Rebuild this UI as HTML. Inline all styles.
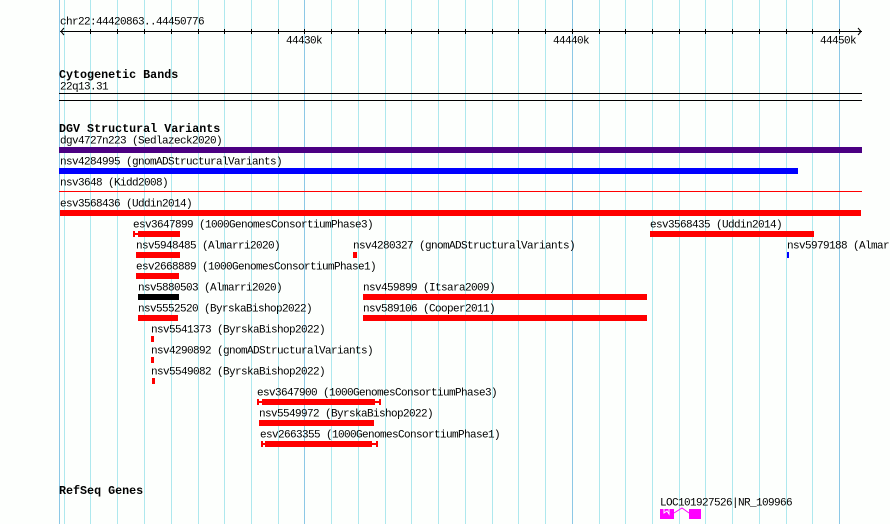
<!DOCTYPE html>
<html><head><style>
body{margin:0;width:890px;height:524px;background:#fdfffd;position:relative;overflow:hidden;font-family:"Liberation Mono",monospace;font-size:10px;color:#000}
.t{position:absolute;line-height:12px;white-space:nowrap;font-size:11px;letter-spacing:-0.6px}
.h{position:absolute;line-height:14px;white-space:nowrap;font-weight:bold;font-size:11.7px}
.b{position:absolute;height:6px;background:#f00}
#w .t{transform:translateY(1.5px)}
</style></head><body>
<svg width="890" height="524" style="position:absolute;left:0;top:0">
<g stroke="#aee8ee" stroke-width="1">
<line x1="64.5" y1="0" x2="64.5" y2="524"/>
<line x1="90.5" y1="0" x2="90.5" y2="524"/><line x1="117.5" y1="0" x2="117.5" y2="524"/><line x1="144.5" y1="0" x2="144.5" y2="524"/><line x1="171.5" y1="0" x2="171.5" y2="524"/><line x1="198.5" y1="0" x2="198.5" y2="524"/><line x1="224.5" y1="0" x2="224.5" y2="524"/><line x1="251.5" y1="0" x2="251.5" y2="524"/><line x1="278.5" y1="0" x2="278.5" y2="524"/>
<line x1="331.5" y1="0" x2="331.5" y2="524"/><line x1="358.5" y1="0" x2="358.5" y2="524"/><line x1="385.5" y1="0" x2="385.5" y2="524"/><line x1="411.5" y1="0" x2="411.5" y2="524"/><line x1="438.5" y1="0" x2="438.5" y2="524"/><line x1="465.5" y1="0" x2="465.5" y2="524"/><line x1="492.5" y1="0" x2="492.5" y2="524"/><line x1="518.5" y1="0" x2="518.5" y2="524"/><line x1="545.5" y1="0" x2="545.5" y2="524"/>
<line x1="599.5" y1="0" x2="599.5" y2="524"/><line x1="625.5" y1="0" x2="625.5" y2="524"/><line x1="652.5" y1="0" x2="652.5" y2="524"/><line x1="679.5" y1="0" x2="679.5" y2="524"/><line x1="705.5" y1="0" x2="705.5" y2="524"/><line x1="732.5" y1="0" x2="732.5" y2="524"/><line x1="759.5" y1="0" x2="759.5" y2="524"/><line x1="786.5" y1="0" x2="786.5" y2="524"/><line x1="812.5" y1="0" x2="812.5" y2="524"/>
</g>
<g stroke="#8cc8e6" stroke-width="1">
<line x1="59.5" y1="0" x2="59.5" y2="524"/><line x1="304.5" y1="0" x2="304.5" y2="524"/><line x1="572.5" y1="0" x2="572.5" y2="524"/><line x1="839.5" y1="0" x2="839.5" y2="524"/>
</g>
<g stroke="#000" stroke-width="1">
<line x1="60" y1="31.5" x2="862" y2="31.5"/>
<polyline points="64,28 61,31.5 64,35" fill="none"/>
<polyline points="858,28 861,31.5 858,35" fill="none"/>
</g>
<g stroke="#000" stroke-width="1">
<line x1="90.5" y1="29" x2="90.5" y2="34"/><line x1="117.5" y1="29" x2="117.5" y2="34"/><line x1="144.5" y1="29" x2="144.5" y2="34"/><line x1="171.5" y1="29" x2="171.5" y2="34"/><line x1="198.5" y1="29" x2="198.5" y2="34"/><line x1="224.5" y1="29" x2="224.5" y2="34"/><line x1="251.5" y1="29" x2="251.5" y2="34"/><line x1="278.5" y1="29" x2="278.5" y2="34"/><line x1="304.5" y1="29" x2="304.5" y2="34"/>
<line x1="331.5" y1="29" x2="331.5" y2="34"/><line x1="358.5" y1="29" x2="358.5" y2="34"/><line x1="385.5" y1="29" x2="385.5" y2="34"/><line x1="411.5" y1="29" x2="411.5" y2="34"/><line x1="438.5" y1="29" x2="438.5" y2="34"/><line x1="465.5" y1="29" x2="465.5" y2="34"/><line x1="492.5" y1="29" x2="492.5" y2="34"/><line x1="518.5" y1="29" x2="518.5" y2="34"/><line x1="545.5" y1="29" x2="545.5" y2="34"/><line x1="572.5" y1="29" x2="572.5" y2="34"/>
<line x1="599.5" y1="29" x2="599.5" y2="34"/><line x1="625.5" y1="29" x2="625.5" y2="34"/><line x1="652.5" y1="29" x2="652.5" y2="34"/><line x1="679.5" y1="29" x2="679.5" y2="34"/><line x1="705.5" y1="29" x2="705.5" y2="34"/><line x1="732.5" y1="29" x2="732.5" y2="34"/><line x1="759.5" y1="29" x2="759.5" y2="34"/><line x1="786.5" y1="29" x2="786.5" y2="34"/><line x1="812.5" y1="29" x2="812.5" y2="34"/><line x1="839.5" y1="29" x2="839.5" y2="34"/>
<line x1="59" y1="93.5" x2="862" y2="93.5"/><line x1="59" y1="100.5" x2="862" y2="100.5"/>
</g>
<rect x="59" y="147" width="803" height="6" fill="#4b0082"/>
<rect x="59" y="168" width="739" height="6" fill="#0000ff"/>
<rect x="59" y="191" width="803" height="1" fill="#f00"/>
<rect x="60" y="210" width="801" height="6" fill="#f00"/>
<g fill="#f00">
<rect x="133" y="231" width="2" height="6"/><rect x="133" y="233" width="5" height="2"/>
<rect x="257" y="399" width="2" height="6"/><rect x="257" y="401" width="5" height="2"/><rect x="375" y="401" width="5" height="2"/><rect x="379" y="399" width="2" height="6"/>
<rect x="261" y="441" width="2" height="6"/><rect x="261" y="443" width="4" height="2"/><rect x="372" y="443" width="5" height="2"/><rect x="376" y="441" width="2" height="6"/>
</g>
<rect x="138" y="231" width="42" height="6" fill="#f00"/>
<rect x="262" y="399" width="113" height="6" fill="#f00"/>
<rect x="265" y="441" width="107" height="6" fill="#f00"/>
<g fill="#f0f">
<rect x="660" y="509" width="14" height="10"/>
<rect x="689" y="509" width="12" height="10"/>
</g>
<polyline points="664,509 664,513 667,511 669,514 669,509" fill="none" stroke="#fdfffd" stroke-width="1"/>
<polyline points="674,513 682,508 689,513" fill="none" stroke="#f0f" stroke-width="1"/>
</svg>

<div id="w">
<div class="t" style="left:60px;top:15px">chr22:44420863..44450776</div>
<div class="t" style="left:286px;top:34px">44430k</div>
<div class="t" style="left:553px;top:34px">44440k</div>
<div class="t" style="left:820px;top:34px">44450k</div>
<div class="h" style="left:59px;top:68px">Cytogenetic Bands</div>
<div class="t" style="left:60px;top:80px">22q13.31</div>
<div class="h" style="left:59px;top:122px">DGV Structural Variants</div>
<div class="t" style="left:60px;top:134px">dgv4727n223 (Sedlazeck2020)</div>
<div class="t" style="left:60px;top:155px">nsv4284995 (gnomADStructuralVariants)</div>
<div class="t" style="left:60px;top:176px">nsv3648 (Kidd2008)</div>
<div class="t" style="left:60px;top:197px">esv3568436 (Uddin2014)</div>

<div class="t" style="left:133px;top:218px">esv3647899 (1000GenomesConsortiumPhase3)</div>
<div class="t" style="left:650px;top:218px">esv3568435 (Uddin2014)</div>
<div class="b" style="left:650px;top:231px;width:164px"></div>

<div class="t" style="left:136px;top:239px">nsv5948485 (Almarri2020)</div>
<div class="b" style="left:136px;top:252px;width:44px"></div>
<div class="t" style="left:353px;top:239px">nsv4280327 (gnomADStructuralVariants)</div>
<div class="b" style="left:353px;top:252px;width:4px"></div>
<div class="t" style="left:787px;top:239px">nsv5979188 (Almarri2020)</div>
<div class="b" style="left:787px;top:252px;width:2px;background:#00f"></div>

<div class="t" style="left:136px;top:260px">esv2668889 (1000GenomesConsortiumPhase1)</div>
<div class="b" style="left:136px;top:273px;width:43px"></div>

<div class="t" style="left:138px;top:281px">nsv5880503 (Almarri2020)</div>
<div class="b" style="left:138px;top:294px;width:41px;background:#000"></div>
<div class="t" style="left:363px;top:281px">nsv459899 (Itsara2009)</div>
<div class="b" style="left:363px;top:294px;width:284px"></div>

<div class="t" style="left:138px;top:302px">nsv5552520 (ByrskaBishop2022)</div>
<div class="b" style="left:138px;top:315px;width:40px"></div>
<div class="t" style="left:363px;top:302px">nsv589106 (Cooper2011)</div>
<div class="b" style="left:363px;top:315px;width:284px"></div>

<div class="t" style="left:151px;top:323px">nsv5541373 (ByrskaBishop2022)</div>
<div class="b" style="left:151px;top:336px;width:3px"></div>
<div class="t" style="left:151px;top:344px">nsv4290892 (gnomADStructuralVariants)</div>
<div class="b" style="left:151px;top:357px;width:3px"></div>
<div class="t" style="left:151px;top:365px">nsv5549082 (ByrskaBishop2022)</div>
<div class="b" style="left:152px;top:378px;width:3px"></div>

<div class="t" style="left:257px;top:386px">esv3647900 (1000GenomesConsortiumPhase3)</div>
<div class="t" style="left:259px;top:407px">nsv5549972 (ByrskaBishop2022)</div>
<div class="b" style="left:259px;top:420px;width:115px"></div>
<div class="t" style="left:260px;top:428px">esv2663355 (1000GenomesConsortiumPhase1)</div>

<div class="h" style="left:59px;top:484px">RefSeq Genes</div>
<div class="t" style="left:660px;top:496px">LOC101927526|NR_109966</div>
</div>
</body></html>
